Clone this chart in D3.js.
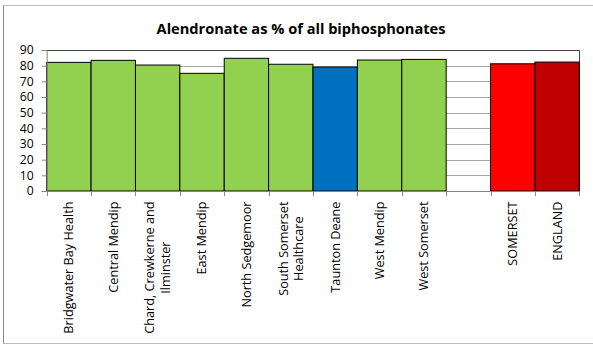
<!DOCTYPE html>
<html>
<head>
<meta charset="utf-8">
<script src="https://cdn.jsdelivr.net/npm/d3@7"></script>
<style>
  html, body { margin: 0; padding: 0; background: #fff; }
  svg { display: block; }
  text { font-family: "Open Sans", "Liberation Sans", sans-serif; fill: #000; }
</style>
</head>
<body>
<svg id="chart" width="593" height="345"></svg>
<script>
// Practices and totals; an empty slot separates the practices from the totals
const categories = [
  "Bridgwater Bay Health", "Central Mendip", "Chard, Crewkerne and\nIlminster",
  "East Mendip", "North Sedgemoor", "South Somerset\nHealthcare", "Taunton Deane",
  "West Mendip", "West Somerset", "", "SOMERSET", "ENGLAND"
];
const values = [82.1, 83.4, 80.4, 75.1, 84.7, 80.9, 79.1, 83.6, 84.0, null, 81.2, 82.3];
const groups = [
  "practice", "practice", "practice", "practice", "practice", "practice", "selected",
  "practice", "practice", "gap", "county", "national"
];
const yTicks = [0, 10, 20, 30, 40, 50, 60, 70, 80, 90];
const title = "Alendronate as % of all biphosphonates";

const fills = { practice: "#92d050", selected: "#0070c0", county: "#ff0000", national: "#c00000" };

const svg = d3.select("#chart");
const W = 593, H = 345;
const plot = { left: 46.7, right: 579.3, top: 50, bottom: 191 };

// Outer chart frame
svg.append("rect")
  .attr("x", 3.5).attr("y", 5.5).attr("width", W + 2).attr("height", 338)
  .attr("fill", "#fff").attr("stroke", "#bfbfbf").attr("stroke-width", 1);
svg.append("line")
  .attr("x1", 3.5).attr("x2", 3.5).attr("y1", 5.5).attr("y2", 343.5)
  .attr("stroke", "#8c8c8c");

// Title
svg.append("text")
  .attr("x", 301).attr("y", 33.5)
  .attr("text-anchor", "middle")
  .attr("font-size", 14.6).attr("font-weight", "bold")
  .text(title);

const x = d3.scaleBand()
  .domain(d3.range(categories.length))
  .range([plot.left, plot.right])
  .paddingInner(0).paddingOuter(0);

const y = d3.scaleLinear().domain([0, 90]).range([plot.bottom, plot.top]);

// Horizontal gridlines
svg.append("g")
  .selectAll("line")
  .data(yTicks.filter(t => t > 0 && t < 90))
  .join("line")
  .attr("x1", plot.left).attr("x2", plot.right)
  .attr("y1", d => Math.round(y(d)) + 0.5).attr("y2", d => Math.round(y(d)) + 0.5)
  .attr("stroke", "#a6a6a6").attr("stroke-width", 1);

// Plot-area border (top and right)
svg.append("path")
  .attr("d", `M${plot.left},${Math.round(y(90)) + 0.5}H${Math.round(plot.right) + 0.5}V${plot.bottom}`)
  .attr("fill", "none").attr("stroke", "#404040").attr("stroke-width", 1);

// Bars
svg.append("g")
  .selectAll("rect")
  .data(values.map((v, i) => ({ v, i, g: groups[i] })).filter(d => d.v != null))
  .join("rect")
  .attr("x", d => x(d.i))
  .attr("width", x.bandwidth())
  .attr("y", d => y(d.v))
  .attr("height", d => y(0) - y(d.v))
  .attr("fill", d => fills[d.g])
  .attr("stroke", "#000").attr("stroke-width", 1);

// Y axis
const yAxis = svg.append("g")
  .attr("transform", `translate(${plot.left},0)`)
  .call(d3.axisLeft(y).tickValues(yTicks).tickSize(5).tickPadding(8).tickFormat(d3.format("d")));
yAxis.select(".domain").attr("stroke", "#868686");
yAxis.selectAll(".tick line").attr("stroke", "#868686");
yAxis.selectAll(".tick text").attr("font-size", 12.2).attr("font-family", null);

// X axis line and category-boundary ticks
const boundaries = d3.range(categories.length + 1).map(i => plot.left + i * x.step());
svg.append("line")
  .attr("x1", plot.left).attr("x2", plot.right)
  .attr("y1", plot.bottom + 0.5).attr("y2", plot.bottom + 0.5)
  .attr("stroke", "#868686");
svg.append("g")
  .selectAll("line")
  .data(boundaries)
  .join("line")
  .attr("x1", d => Math.round(d) + 0.5).attr("x2", d => Math.round(d) + 0.5)
  .attr("y1", plot.bottom).attr("y2", plot.bottom + 5)
  .attr("stroke", "#868686");

// Rotated category labels, lines centred within a block that hangs from the axis
const lineGap = 15.5;
const labelTop = plot.bottom + 10.5;
const lab = svg.append("g").attr("font-size", 12.7);
categories.forEach((c, i) => {
  if (!c) return;
  const lines = c.split("\n");
  const cx = x(i) + x.bandwidth() / 2;
  const g = lab.append("g");
  const texts = lines.map((ln, k) =>
    g.append("text").text(ln).attr("dy", "0.35em")
  );
  const widths = texts.map(t => t.node().getComputedTextLength());
  const blockLen = d3.max(widths);
  texts.forEach((t, k) => {
    const off = (k - (lines.length - 1) / 2) * lineGap;
    if (lines.length === 1) {
      t.attr("text-anchor", "end")
        .attr("transform", `translate(${cx + off},${labelTop}) rotate(-90)`);
    } else {
      t.attr("text-anchor", "middle")
        .attr("transform", `translate(${cx + off},${labelTop + blockLen / 2}) rotate(-90)`);
    }
  });
});
</script>
</body>
</html>
